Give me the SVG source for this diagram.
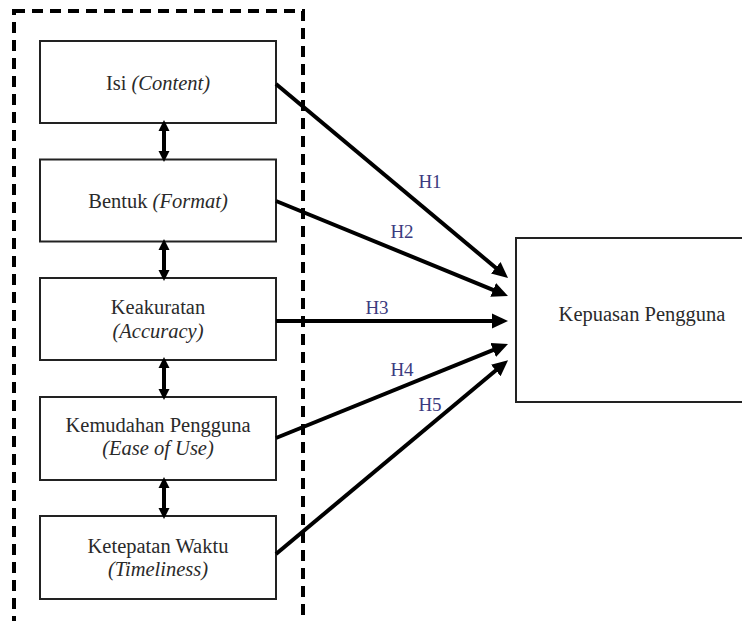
<svg xmlns="http://www.w3.org/2000/svg" width="742" height="621" viewBox="0 0 742 621">
<style>
.box{fill:#fff;stroke:#222;stroke-width:2}
.t{font-family:"Liberation Serif","Times New Roman",serif;font-size:20.5px;fill:#2a2a2a;text-anchor:middle}
.i{font-style:italic}
.h{font-family:"Liberation Serif","Times New Roman",serif;font-size:19px;fill:#3b3b80;text-anchor:middle}
.arr{stroke:#000;stroke-width:4;fill:none;marker-end:url(#ah)}
.dbl{stroke:#000;stroke-width:4;fill:none;marker-start:url(#sh);marker-end:url(#sh)}
</style>
<defs>
<marker id="ah" markerUnits="userSpaceOnUse" markerWidth="17" markerHeight="17" viewBox="0 0 17 17" refX="5" refY="8.5" orient="auto">
<path d="M0,1 L16,8.5 L0,16 z" fill="#000"/>
</marker>
<marker id="sh" markerUnits="userSpaceOnUse" markerWidth="12" markerHeight="12" viewBox="0 0 12 12" refX="3" refY="6" orient="auto-start-reverse">
<path d="M0,0.5 L11,6 L0,11.5 z" fill="#000"/>
</marker>
</defs>
<rect x="14" y="11" width="289" height="640" fill="none" stroke="#000" stroke-width="4" stroke-dasharray="11 7"/>
<g id="n1"><rect class="box" x="40" y="41" width="236" height="82"/><text class="t" x="158" y="90">Isi <tspan class="i">(Content)</tspan></text></g>
<g id="n2"><rect class="box" x="40" y="159.5" width="236" height="82"/><text class="t" x="158" y="208">Bentuk <tspan class="i">(Format)</tspan></text></g>
<g id="n3"><rect class="box" x="40" y="278" width="236" height="82"/><text class="t" x="158" y="314">Keakuratan</text><text class="t i" x="158" y="338">(Accuracy)</text></g>
<g id="n4"><rect class="box" x="40" y="397" width="236" height="83"/><text class="t" x="158" y="432">Kemudahan Pengguna</text><text class="t i" x="158" y="455">(Ease of Use)</text></g>
<g id="n5"><rect class="box" x="40" y="516" width="236" height="83"/><text class="t" x="158" y="553">Ketepatan Waktu</text><text class="t i" x="158" y="576">(Timeliness)</text></g>
<g id="n6"><rect class="box" x="516" y="238" width="240" height="164"/><text class="t" x="642" y="321">Kepuasan Pengguna</text></g>
<g id="connectors">
<line class="dbl" x1="164" y1="128" x2="164" y2="154"/>
<line class="dbl" x1="164" y1="247" x2="164" y2="273"/>
<line class="dbl" x1="164" y1="365" x2="164" y2="392"/>
<line class="dbl" x1="164" y1="485" x2="164" y2="511"/>
<line class="arr" x1="276" y1="84" x2="499.6" y2="271"/>
<line class="arr" x1="276" y1="201" x2="497.8" y2="291.8"/>
<line class="arr" x1="276" y1="321" x2="497" y2="321"/>
<line class="arr" x1="276" y1="438" x2="497.8" y2="348.1"/>
<line class="arr" x1="276" y1="554" x2="499.6" y2="367.2"/>
<text class="h" x="430" y="188">H1</text>
<text class="h" x="402" y="238">H2</text>
<text class="h" x="377" y="314">H3</text>
<text class="h" x="402" y="376">H4</text>
<text class="h" x="430" y="411">H5</text>
</g>
</svg>
